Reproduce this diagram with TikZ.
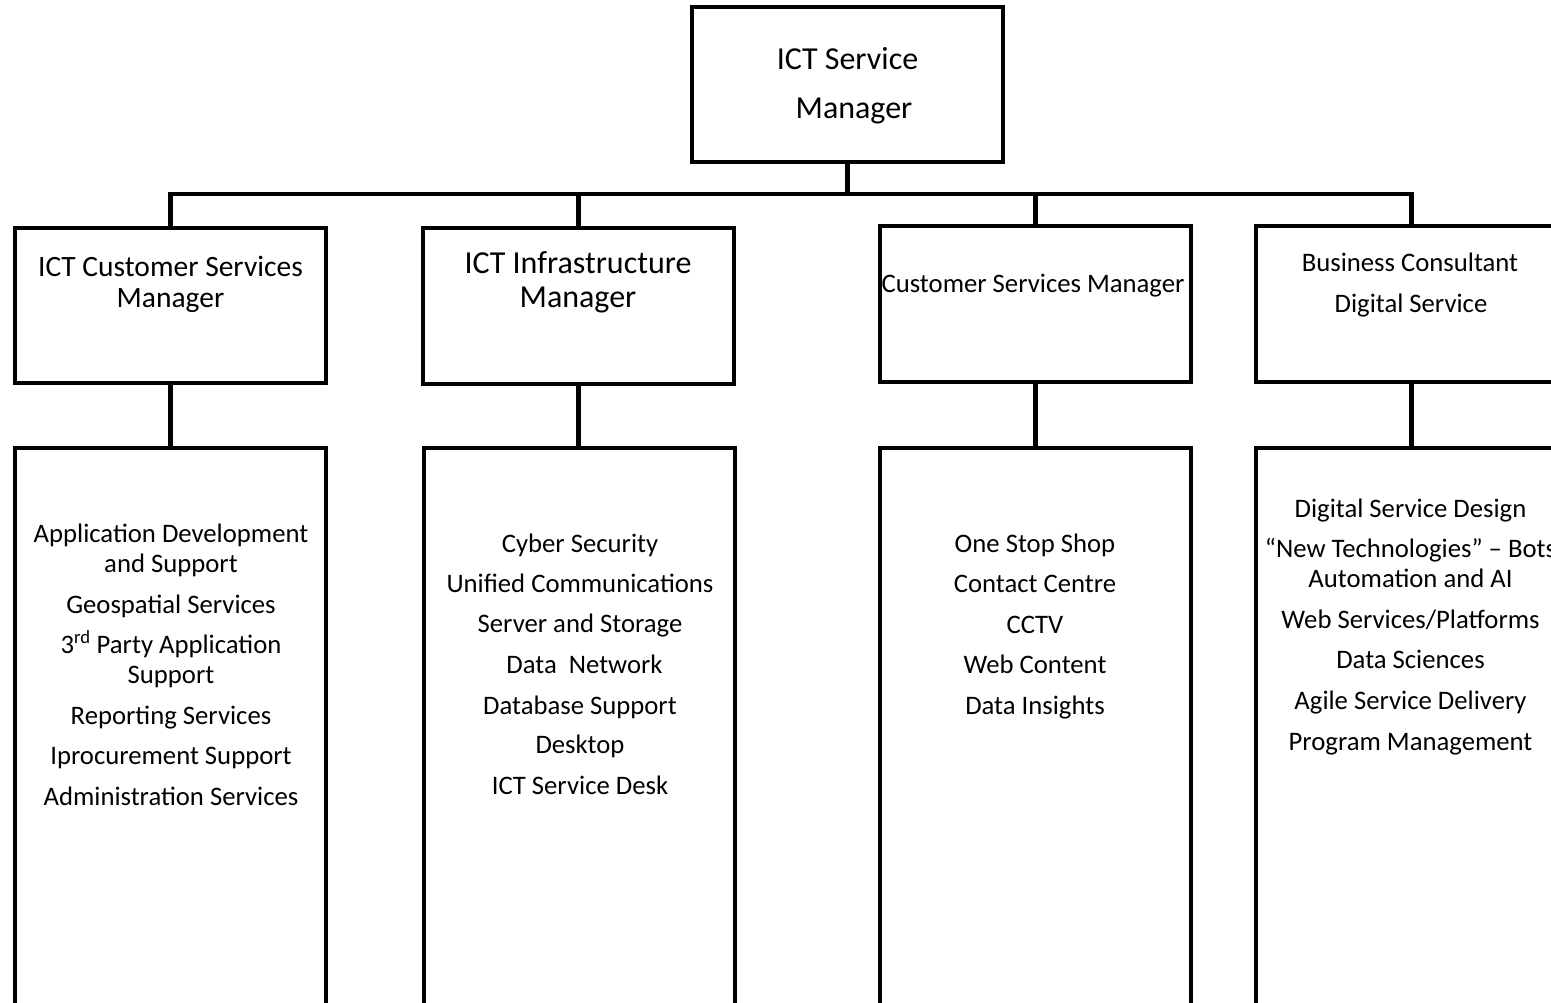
\documentclass[tikz,border=0pt]{standalone}
\usepackage{fontspec}
\setmainfont{Carlito}
\begin{document}
\begin{tikzpicture}[x=1pt,y=-1pt,
  frame/.style={draw=black, line width=4.2pt, rectangle, inner sep=0pt},
  wire/.style={draw=black, line width=4.2pt},
  lbl/.style={inner sep=0pt, anchor=base, font=\fontsize{26.7}{32}\selectfont},
  head/.style={inner sep=0pt, anchor=base, font=\fontsize{32}{38}\selectfont},
  headb/.style={inner sep=0pt, anchor=base, font=\fontsize{29.5}{35}\selectfont},
]
\useasboundingbox (0,0) rectangle (1551,1002);

% boxes
\node[frame, minimum width=311pt, minimum height=155pt] (top) at (847.5,84.5) {};
\node[frame, minimum width=311pt, minimum height=155pt] (h1) at (170.5,305.5) {};
\node[frame, minimum width=311pt, minimum height=156pt] (h2) at (578.5,306) {};
\node[frame, minimum width=311pt, minimum height=156pt] (h3) at (1035.5,304) {};
\node[frame, minimum width=311pt, minimum height=156pt] (h4) at (1411.5,304) {};
\node[frame, minimum width=311pt, minimum height=612pt] (l1) at (170.5,754) {};
\node[frame, minimum width=311pt, minimum height=612pt] (l2) at (579.5,754) {};
\node[frame, minimum width=311pt, minimum height=612pt] (l3) at (1035.5,754) {};
\node[frame, minimum width=311pt, minimum height=612pt] (l4) at (1411.5,754) {};

% connectors
\coordinate (bus) at (847.5,194);
\draw[wire] (top.south) -- (bus);
\draw[wire] (h1.north) |- (bus) -| (h4.north);
\draw[wire] (h2.north) -- (h2.north |- bus);
\draw[wire] (h3.north) -- (h3.north |- bus);
\draw[wire] (h1.south) -- (h1.south |- l1.north);
\draw[wire] (h2.south) -- (h2.south |- l2.north);
\draw[wire] (h3.south) -- (h3.south |- l3.north);
\draw[wire] (h4.south) -- (h4.south |- l4.north);

% titles
\node[head] (t1) at (847.5,69) {ICT Service};
\node[head] (t2) at (854,118) {Manager};
\node[headb] (h1a) at (170.5,276) {ICT Customer Services};
\node[headb] (h1b) at (170.5,307) {Manager};
\node[head] (h2a) at (578,273) {ICT Infrastructure};
\node[head] (h2b) at (578,307) {Manager};
\node[lbl] (h3a) at (1033,292) {Customer Services Manager};
\node[lbl] (h4a) at (1410,271) {Business Consultant};
\node[lbl] (h4b) at (1411,312) {Digital Service};

% service lists
\foreach \yy/\tt [count=\i] in {
  542/{Application Development}, 572/{and Support}, 613/{Geospatial Services},
  653/{3\textsuperscript{rd} Party Application}, 683/{Support},
  724/{Reporting Services}, 764/{Iprocurement Support}, 805/{Administration Services}}
  \node[lbl] (a\i) at (171,\yy) {\tt};

\foreach \yy/\tt [count=\i] in {
  552/{Cyber Security}, 592/{Unified Communications}, 632/{Server and Storage},
  714/{Database Support}, 753/{Desktop}, 794/{ICT Service Desk}}
  \node[lbl] (b\i) at (580,\yy) {\tt};
\node[lbl] (bnet) at (584.5,673) {Data\ \ Network};

\foreach \yy/\tt [count=\i] in {
  552/{One Stop Shop}, 592/{Contact Centre}, 633/{CCTV},
  673/{Web Content}, 714/{Data Insights}}
  \node[lbl] (c\i) at (1035,\yy) {\tt};

\foreach \yy/\tt [count=\i] in {
  517/{Digital Service Design}, 557/{“New Technologies” – Bots},
  587/{Automation and AI}, 628/{Web Services/Platforms}, 668/{Data Sciences},
  709/{Agile Service Delivery}, 750/{Program Management}}
  \node[lbl] (d\i) at (1410.5,\yy) {\tt};
\end{tikzpicture}
\end{document}
